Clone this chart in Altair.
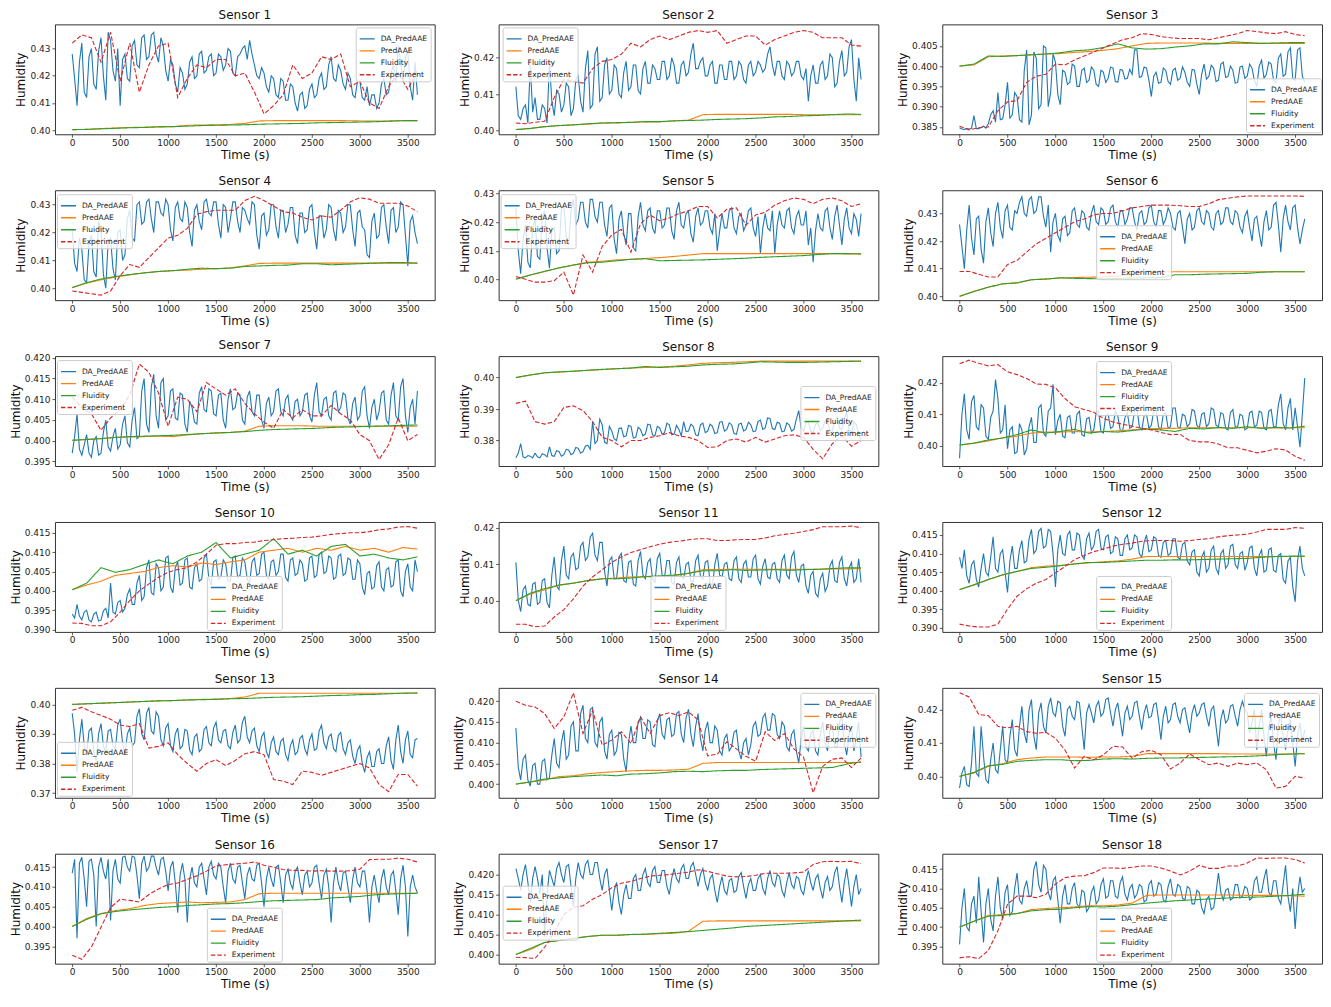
import altair as alt
import pandas as pd

SERIES = ["DA_PredAAE", "PredAAE", "Fluidity", "Experiment"]
COLORS = ["#1f77b4", "#ff7f0e", "#2ca02c", "#d62728"]
DASHES = [[1, 0], [1, 0], [1, 0], [4.5, 2]]
X_TICKS = [0, 500, 1000, 1500, 2000, 2500, 3000, 3500]
T_END = 3600  # length of the run in seconds; samples are evenly spaced over it

# ---------------- Sensor 1 ----------------
DA_1 = [0.428,0.419,0.409,0.425,0.432,0.414,0.412,0.427,0.430,0.417,
        0.415,0.429,0.434,0.420,0.411,0.436,0.433,0.422,0.418,0.430,
        0.409,0.426,0.428,0.419,0.418,0.431,0.433,0.424,0.423,0.434,
        0.435,0.426,0.427,0.435,0.436,0.428,0.425,0.434,0.431,0.422,
        0.418,0.426,0.424,0.417,0.414,0.423,0.421,0.415,0.417,0.425,
        0.427,0.419,0.420,0.428,0.429,0.421,0.422,0.427,0.428,0.420,
        0.421,0.428,0.427,0.422,0.424,0.430,0.429,0.421,0.420,0.427,
        0.428,0.430,0.431,0.426,0.433,0.428,0.424,0.420,0.419,0.423,
        0.421,0.416,0.414,0.420,0.419,0.413,0.412,0.419,0.418,0.411,
        0.411,0.417,0.416,0.410,0.407,0.413,0.414,0.408,0.409,0.415,
        0.417,0.412,0.413,0.419,0.421,0.415,0.416,0.424,0.427,0.419,
        0.418,0.424,0.422,0.417,0.415,0.421,0.419,0.413,0.412,0.418,
        0.418,0.412,0.411,0.416,0.409,0.413,0.413,0.408,0.410,0.417,
        0.419,0.413,0.414,0.421,0.424,0.418,0.431,0.425,0.418,0.427,
        0.429,0.416,0.411,0.425,0.413]
EXP_1 = [0.432,0.435,0.434,0.425,0.436,0.418,0.432,0.414,0.424,0.431,
         0.432,0.412,0.419,0.424,0.423,0.426,0.426,0.420,0.421,0.414,
         0.406,0.409,0.413,0.424,0.419,0.421,0.427,0.426,0.428,0.416,
         0.418,0.410,0.408,0.416,0.421,0.415,0.422]
PRED_1 = [0.4002,0.4003,0.4006,0.4008,0.4010,0.4011,0.4013,0.4013,0.4018,0.4019,
          0.4020,0.4021,0.4025,0.4034,0.4035,0.4035,0.4035,0.4035,0.4035,0.4035,
          0.4034,0.4034,0.4034,0.4035,0.4035]
FLU_1 = [0.4002,0.4003,0.4005,0.4007,0.4009,0.4010,0.4012,0.4013,0.4015,0.4017,
         0.4018,0.4019,0.4020,0.4022,0.4023,0.4024,0.4025,0.4027,0.4028,0.4029,
         0.4030,0.4031,0.4033,0.4035,0.4035]
YT_1 = [0.40, 0.41, 0.42, 0.43]

# ---------------- Sensor 2 ----------------
DA_2 = [0.412,0.404,0.403,0.406,0.407,0.402,0.418,0.405,0.409,0.403,
        0.403,0.407,0.406,0.402,0.419,0.408,0.404,0.411,0.410,0.405,
        0.407,0.413,0.412,0.404,0.406,0.414,0.415,0.408,0.405,0.417,
        0.422,0.406,0.407,0.421,0.423,0.408,0.409,0.418,0.420,0.410,
        0.411,0.418,0.417,0.410,0.409,0.416,0.419,0.411,0.412,0.418,
        0.418,0.411,0.410,0.417,0.419,0.413,0.413,0.418,0.417,0.414,
        0.414,0.419,0.419,0.414,0.415,0.420,0.418,0.413,0.413,0.418,
        0.419,0.415,0.416,0.421,0.424,0.417,0.417,0.419,0.420,0.415,
        0.415,0.418,0.419,0.413,0.413,0.418,0.418,0.414,0.414,0.419,
        0.419,0.414,0.415,0.419,0.418,0.414,0.413,0.418,0.419,0.415,
        0.416,0.419,0.418,0.416,0.417,0.421,0.423,0.418,0.415,0.419,
        0.419,0.415,0.414,0.419,0.418,0.415,0.416,0.419,0.419,0.415,
        0.414,0.417,0.408,0.415,0.418,0.413,0.413,0.418,0.419,0.414,
        0.415,0.421,0.420,0.412,0.413,0.419,0.422,0.415,0.416,0.423,
        0.425,0.414,0.408,0.420,0.414]
EXP_2 = [0.4020,0.4018,0.4022,0.4025,0.4090,0.4140,0.4135,0.4130,0.4170,0.4190,
         0.4195,0.4210,0.4240,0.4230,0.4250,0.4260,0.4250,0.4260,0.4270,0.4275,
         0.4270,0.4275,0.4240,0.4250,0.4260,0.4260,0.4235,0.4250,0.4260,0.4270,
         0.4275,0.4270,0.4255,0.4255,0.4255,0.4235,0.4232]
PRED_2 = [0.4002,0.4005,0.4010,0.4013,0.4015,0.4017,0.4020,0.4020,0.4022,0.4023,
          0.4023,0.4026,0.4028,0.4043,0.4044,0.4044,0.4044,0.4044,0.4044,0.4044,
          0.4043,0.4043,0.4043,0.4043,0.4043]
FLU_2 = [0.4002,0.4005,0.4010,0.4013,0.4015,0.4018,0.4020,0.4021,0.4022,0.4024,
         0.4024,0.4026,0.4027,0.4028,0.4030,0.4031,0.4032,0.4034,0.4037,0.4038,
         0.4040,0.4041,0.4043,0.4045,0.4044]
YT_2 = [0.40, 0.41, 0.42]

# ---------------- Sensor 3 ----------------
DA_3 = [0.3848,0.3845,0.3844,0.3846,0.3845,0.3847,0.3878,0.3846,0.3846,0.3849,
        0.3852,0.3847,0.3858,0.3880,0.3890,0.3862,0.3935,0.3868,0.3870,0.3905,
        0.3960,0.3872,0.3880,0.3935,0.3925,0.3868,0.3862,0.3990,0.4040,0.3855,
        0.3880,0.4035,0.4020,0.3895,0.3905,0.4050,0.4045,0.3900,0.3935,0.4030,
        0.4010,0.3930,0.3905,0.3990,0.3985,0.3955,0.3960,0.4005,0.4000,0.3950,
        0.3950,0.3990,0.3995,0.3960,0.3965,0.3998,0.3990,0.3955,0.3950,0.3990,
        0.3985,0.3960,0.3970,0.3998,0.3995,0.3962,0.3960,0.3992,0.3990,0.3968,
        0.3970,0.3992,0.3980,0.4040,0.4040,0.3972,0.3975,0.3998,0.3995,0.3965,
        0.3925,0.3975,0.3985,0.3958,0.3960,0.3995,0.3990,0.3962,0.3955,0.3990,
        0.3995,0.3965,0.3970,0.3998,0.3985,0.3960,0.3950,0.3992,0.3990,0.3955,
        0.3930,0.3980,0.4005,0.3968,0.3975,0.4002,0.3995,0.3962,0.3965,0.4005,
        0.4010,0.3972,0.3975,0.4000,0.3990,0.3958,0.3960,0.3998,0.4000,0.3970,
        0.3975,0.4005,0.3995,0.3965,0.3950,0.4000,0.4015,0.3970,0.3980,0.4010,
        0.4005,0.3965,0.3960,0.4020,0.4030,0.3975,0.3980,0.4035,0.4045,0.3970,
        0.3965,0.4040,0.4045,0.3975,0.3960]
EXP_3 = [0.3852,0.3843,0.3848,0.3850,0.3890,0.3912,0.3915,0.3960,0.3975,0.3980,
         0.4005,0.4003,0.4015,0.4025,0.4035,0.4045,0.4055,0.4065,0.4070,0.4080,
         0.4078,0.4073,0.4070,0.4068,0.4068,0.4068,0.4065,0.4070,0.4075,0.4080,
         0.4088,0.4085,0.4082,0.4080,0.4085,0.4078,0.4075]
PRED_3 = [0.4000,0.4003,0.4023,0.4025,0.4026,0.4028,0.4030,0.4031,0.4034,0.4036,
          0.4039,0.4043,0.4050,0.4056,0.4057,0.4057,0.4057,0.4057,0.4056,0.4056,
          0.4056,0.4056,0.4056,0.4056,0.4056]
FLU_3 = [0.4000,0.4005,0.4025,0.4024,0.4026,0.4028,0.4030,0.4033,0.4038,0.4040,
         0.4046,0.4055,0.4045,0.4042,0.4043,0.4047,0.4050,0.4055,0.4055,0.4060,
         0.4058,0.4056,0.4057,0.4058,0.4058]
YT_3 = [0.385, 0.390, 0.395, 0.400, 0.405]

# ---------------- Sensor 4 ----------------
DA_4 = [0.421,0.409,0.406,0.418,0.414,0.403,0.402,0.416,0.419,0.406,
        0.404,0.424,0.421,0.405,0.400,0.417,0.418,0.407,0.403,0.420,
        0.421,0.410,0.412,0.425,0.428,0.418,0.417,0.430,0.431,0.423,
        0.424,0.431,0.432,0.425,0.420,0.431,0.431,0.427,0.426,0.432,
        0.430,0.421,0.417,0.429,0.431,0.425,0.424,0.431,0.429,0.420,
        0.415,0.428,0.430,0.424,0.421,0.431,0.432,0.427,0.426,0.431,
        0.431,0.423,0.418,0.430,0.429,0.420,0.425,0.431,0.431,0.424,
        0.420,0.429,0.428,0.425,0.423,0.431,0.430,0.419,0.414,0.426,
        0.427,0.419,0.421,0.430,0.430,0.422,0.418,0.428,0.428,0.420,
        0.423,0.429,0.429,0.419,0.416,0.427,0.427,0.420,0.421,0.429,
        0.430,0.420,0.414,0.426,0.426,0.418,0.421,0.430,0.429,0.421,
        0.417,0.428,0.427,0.420,0.422,0.430,0.430,0.421,0.415,0.427,
        0.428,0.422,0.421,0.412,0.411,0.424,0.427,0.418,0.419,0.429,
        0.430,0.422,0.416,0.428,0.429,0.420,0.422,0.431,0.430,0.419,
        0.408,0.424,0.426,0.420,0.416]
EXP_4 = [0.3990,0.3985,0.3980,0.3975,0.3990,0.4045,0.4085,0.4075,0.4110,0.4145,
         0.4180,0.4190,0.4215,0.4265,0.4275,0.4280,0.4280,0.4280,0.4315,0.4330,
         0.4315,0.4295,0.4275,0.4270,0.4255,0.4245,0.4260,0.4255,0.4280,0.4310,
         0.4325,0.4320,0.4305,0.4305,0.4305,0.4295,0.4275]
PRED_4 = [0.4002,0.4018,0.4030,0.4040,0.4048,0.4055,0.4060,0.4063,0.4065,0.4068,
          0.4070,0.4073,0.4080,0.4089,0.4090,0.4090,0.4090,0.4090,0.4090,0.4090,
          0.4090,0.4090,0.4090,0.4090,0.4090]
FLU_4 = [0.4002,0.4020,0.4033,0.4042,0.4049,0.4055,0.4060,0.4063,0.4068,0.4072,
         0.4070,0.4072,0.4078,0.4080,0.4082,0.4083,0.4088,0.4088,0.4084,0.4086,
         0.4088,0.4090,0.4092,0.4092,0.4090]
YT_4 = [0.40, 0.41, 0.42, 0.43]

# ---------------- Sensor 5 ----------------
DA_5 = [0.425,0.410,0.402,0.414,0.419,0.406,0.404,0.418,0.421,0.408,
        0.407,0.422,0.424,0.411,0.404,0.417,0.418,0.409,0.410,0.425,
        0.426,0.415,0.412,0.424,0.428,0.419,0.421,0.427,0.427,0.420,
        0.418,0.428,0.428,0.422,0.420,0.427,0.427,0.419,0.415,0.425,
        0.426,0.414,0.409,0.421,0.424,0.416,0.412,0.423,0.423,0.411,
        0.410,0.422,0.427,0.419,0.417,0.424,0.425,0.418,0.416,0.424,
        0.424,0.418,0.419,0.425,0.425,0.417,0.414,0.424,0.427,0.419,
        0.418,0.423,0.424,0.416,0.413,0.422,0.425,0.419,0.420,0.424,
        0.424,0.418,0.416,0.423,0.410,0.417,0.423,0.418,0.418,0.424,
        0.425,0.418,0.416,0.422,0.423,0.417,0.419,0.424,0.425,0.418,
        0.415,0.422,0.409,0.418,0.423,0.418,0.417,0.424,0.409,0.419,
        0.424,0.419,0.418,0.424,0.425,0.418,0.416,0.422,0.424,0.419,
        0.419,0.424,0.412,0.418,0.406,0.417,0.423,0.418,0.417,0.424,
        0.425,0.418,0.414,0.422,0.426,0.419,0.412,0.421,0.425,0.418,
        0.416,0.423,0.421,0.415,0.423]
EXP_5 = [0.4010,0.4000,0.3990,0.3990,0.3995,0.4025,0.3945,0.4085,0.4025,0.4115,
         0.4155,0.4175,0.4095,0.4195,0.4225,0.4205,0.4215,0.4230,0.4240,0.4255,
         0.4255,0.4215,0.4245,0.4250,0.4190,0.4225,0.4235,0.4260,0.4275,0.4285,
         0.4280,0.4265,0.4280,0.4285,0.4275,0.4255,0.4265]
PRED_5 = [0.4002,0.4015,0.4027,0.4040,0.4050,0.4060,0.4063,0.4068,0.4070,0.4073,
          0.4076,0.4080,0.4085,0.4090,0.4090,0.4090,0.4090,0.4090,0.4090,0.4090,
          0.4090,0.4090,0.4090,0.4089,0.4089]
FLU_5 = [0.4000,0.4015,0.4028,0.4040,0.4050,0.4058,0.4060,0.4065,0.4070,0.4072,
         0.4065,0.4066,0.4067,0.4068,0.4070,0.4072,0.4074,0.4077,0.4079,0.4081,
         0.4083,0.4087,0.4090,0.4090,0.4089]
YT_5 = [0.40, 0.41, 0.42, 0.43]

# ---------------- Sensor 6 ----------------
DA_6 = [0.426,0.418,0.410,0.424,0.433,0.421,0.415,0.428,0.429,0.417,
        0.412,0.427,0.432,0.423,0.418,0.430,0.434,0.425,0.421,0.431,
        0.433,0.425,0.424,0.431,0.430,0.434,0.436,0.430,0.429,0.435,
        0.436,0.430,0.431,0.436,0.436,0.429,0.425,0.433,0.416,0.427,
        0.430,0.422,0.420,0.428,0.429,0.422,0.423,0.431,0.432,0.426,
        0.425,0.431,0.430,0.425,0.424,0.430,0.433,0.427,0.426,0.432,
        0.431,0.426,0.427,0.432,0.433,0.427,0.425,0.431,0.431,0.426,
        0.428,0.432,0.432,0.427,0.424,0.430,0.431,0.426,0.427,0.432,
        0.433,0.427,0.425,0.431,0.431,0.426,0.428,0.432,0.430,0.425,
        0.424,0.430,0.431,0.425,0.419,0.428,0.430,0.424,0.425,0.431,
        0.432,0.427,0.426,0.431,0.430,0.425,0.424,0.430,0.431,0.426,
        0.427,0.432,0.432,0.427,0.426,0.431,0.430,0.425,0.423,0.429,
        0.431,0.425,0.420,0.428,0.429,0.423,0.418,0.427,0.431,0.424,
        0.425,0.433,0.434,0.426,0.416,0.428,0.433,0.427,0.424,0.432,
        0.433,0.425,0.419,0.424,0.428]
EXP_6 = [0.4090,0.4090,0.4080,0.4070,0.4070,0.4115,0.4130,0.4160,0.4190,0.4210,
         0.4230,0.4250,0.4270,0.4280,0.4295,0.4300,0.4300,0.4310,0.4320,0.4325,
         0.4330,0.4330,0.4330,0.4328,0.4325,0.4325,0.4335,0.4350,0.4355,0.4360,
         0.4363,0.4363,0.4363,0.4363,0.4363,0.4363,0.4362]
PRED_6 = [0.4000,0.4018,0.4033,0.4045,0.4048,0.4060,0.4063,0.4066,0.4068,0.4069,
          0.4070,0.4073,0.4080,0.4089,0.4089,0.4089,0.4089,0.4089,0.4089,0.4089,
          0.4089,0.4089,0.4089,0.4089,0.4089]
FLU_6 = [0.4000,0.4017,0.4033,0.4045,0.4049,0.4060,0.4062,0.4067,0.4065,0.4064,
         0.4063,0.4065,0.4066,0.4067,0.4068,0.4078,0.4078,0.4080,0.4081,0.4082,
         0.4083,0.4087,0.4089,0.4089,0.4089]
YT_6 = [0.40, 0.41, 0.42, 0.43]

# ---------------- Sensor 7 ----------------
DA_7 = [0.3970,0.4010,0.4065,0.3980,0.3965,0.3990,0.4015,0.3970,0.3960,0.4000,
        0.4010,0.3965,0.3970,0.4020,0.4050,0.3985,0.3975,0.4010,0.4030,0.3980,
        0.3990,0.4040,0.4060,0.3995,0.3985,0.4050,0.4080,0.4005,0.4010,0.4120,
        0.4150,0.4040,0.4020,0.4130,0.4160,0.4060,0.4030,0.4140,0.4150,0.4050,
        0.4060,0.4120,0.4125,0.4055,0.4050,0.4115,0.4110,0.4040,0.4020,0.4095,
        0.4080,0.4045,0.4040,0.4115,0.4130,0.4075,0.4070,0.4125,0.4120,0.4065,
        0.4060,0.4110,0.4115,0.4050,0.4030,0.4100,0.4125,0.4075,0.4080,0.4115,
        0.4110,0.4050,0.4040,0.4105,0.4120,0.4070,0.4060,0.4110,0.4110,0.4050,
        0.4030,0.4090,0.4105,0.4060,0.4070,0.4120,0.4125,0.4070,0.4060,0.4100,
        0.4110,0.4060,0.4050,0.4095,0.4100,0.4060,0.4070,0.4110,0.4115,0.4060,
        0.4045,0.4110,0.4140,0.4070,0.4060,0.4100,0.4105,0.4060,0.4050,0.4115,
        0.4120,0.4070,0.4080,0.4115,0.4110,0.4055,0.4040,0.4090,0.4105,0.4050,
        0.4060,0.4120,0.4130,0.4060,0.4030,0.4080,0.4100,0.4050,0.4070,0.4115,
        0.4120,0.4050,0.4040,0.4110,0.4140,0.4060,0.4050,0.4130,0.4150,0.4060,
        0.4020,0.4080,0.4100,0.4040,0.4120]
EXP_7 = [0.4105,0.4080,0.4065,0.4025,0.4055,0.4075,0.4110,0.4185,0.4165,0.4115,
         0.4035,0.4105,0.4100,0.4070,0.4140,0.4125,0.4110,0.4125,0.4090,0.4065,
         0.4045,0.4030,0.4075,0.4055,0.4075,0.4060,0.4060,0.4085,0.4065,0.4050,
         0.4015,0.4000,0.3955,0.3990,0.4055,0.4000,0.4015]
PRED_7 = [0.4001,0.4003,0.4005,0.4008,0.4009,0.4010,0.4011,0.4010,0.4014,0.4017,
          0.4018,0.4020,0.4023,0.4035,0.4036,0.4036,0.4036,0.4035,0.4035,0.4035,
          0.4035,0.4035,0.4035,0.4035,0.4035]
FLU_7 = [0.4001,0.4003,0.4005,0.4008,0.4010,0.4011,0.4012,0.4013,0.4015,0.4017,
         0.4019,0.4020,0.4022,0.4025,0.4027,0.4028,0.4029,0.4030,0.4032,0.4033,
         0.4034,0.4035,0.4036,0.4037,0.4038]
YT_7 = [0.395, 0.400, 0.405, 0.410, 0.415, 0.420]

# ---------------- Sensor 8 ----------------
DA_8 = [0.3745,0.3760,0.3790,0.3748,0.3745,0.3752,0.3750,0.3745,0.3760,0.3748,
        0.3745,0.3758,0.3755,0.3748,0.3780,0.3752,0.3750,0.3768,0.3765,0.3750,
        0.3755,0.3772,0.3770,0.3755,0.3760,0.3778,0.3775,0.3760,0.3765,0.3782,
        0.3785,0.3772,0.3860,0.3790,0.3800,0.3868,0.3850,0.3795,0.3790,0.3845,
        0.3830,0.3805,0.3800,0.3838,0.3840,0.3812,0.3815,0.3848,0.3845,0.3808,
        0.3810,0.3842,0.3835,0.3815,0.3820,0.3852,0.3850,0.3818,0.3815,0.3845,
        0.3840,0.3820,0.3825,0.3855,0.3850,0.3818,0.3820,0.3848,0.3835,0.3815,
        0.3860,0.3828,0.3830,0.3852,0.3845,0.3818,0.3815,0.3850,0.3855,0.3825,
        0.3830,0.3852,0.3845,0.3822,0.3825,0.3858,0.3860,0.3830,0.3835,0.3856,
        0.3850,0.3822,0.3820,0.3852,0.3855,0.3830,0.3835,0.3858,0.3850,0.3828,
        0.3830,0.3860,0.3865,0.3835,0.3840,0.3872,0.3870,0.3838,0.3835,0.3858,
        0.3855,0.3828,0.3830,0.3856,0.3850,0.3830,0.3835,0.3868,0.3895,0.3838,
        0.3830,0.3855,0.3860,0.3830,0.3825,0.3852,0.3855,0.3832,0.3840,0.3862,
        0.3860,0.3832,0.3830,0.3862,0.3875,0.3840,0.3835,0.3870,0.3890,0.3835,
        0.3820,0.3860,0.3850,0.3822,0.3800]
EXP_8 = [0.3918,0.3925,0.3860,0.3852,0.3860,0.3905,0.3910,0.3895,0.3860,0.3810,
         0.3800,0.3780,0.3800,0.3800,0.3810,0.3815,0.3825,0.3815,0.3810,0.3800,
         0.3778,0.3780,0.3800,0.3805,0.3795,0.3810,0.3795,0.3805,0.3815,0.3818,
         0.3810,0.3772,0.3742,0.3790,0.3815,0.3782,0.3800]
PRED_8 = [0.4000,0.4008,0.4015,0.4017,0.4020,0.4023,0.4025,0.4028,0.4030,0.4032,
          0.4033,0.4036,0.4040,0.4045,0.4047,0.4048,0.4050,0.4052,0.4052,0.4052,
          0.4052,0.4052,0.4052,0.4052,0.4052]
FLU_8 = [0.4000,0.4008,0.4015,0.4018,0.4020,0.4023,0.4026,0.4028,0.4030,0.4035,
         0.4032,0.4034,0.4036,0.4040,0.4042,0.4043,0.4046,0.4050,0.4049,0.4048,
         0.4048,0.4049,0.4050,0.4051,0.4052]
YT_8 = [0.38, 0.39, 0.40]

# ---------------- Sensor 9 ----------------
DA_9 = [0.3960,0.4100,0.4165,0.4050,0.4020,0.4140,0.4160,0.4060,0.4050,0.4130,
        0.4120,0.4030,0.4020,0.4090,0.4110,0.4210,0.4150,0.4040,0.4050,0.4130,
        0.3990,0.4050,0.4060,0.3975,0.3980,0.4070,0.4050,0.3970,0.3990,0.4060,
        0.4090,0.4010,0.4010,0.4120,0.4130,0.4040,0.4030,0.4110,0.4120,0.4195,
        0.4035,0.4080,0.4100,0.4030,0.4025,0.4090,0.4095,0.4040,0.4040,0.4100,
        0.4110,0.4035,0.4030,0.4085,0.4090,0.4040,0.4050,0.4105,0.4110,0.4045,
        0.4040,0.4095,0.4100,0.4055,0.4060,0.4110,0.4095,0.4050,0.4045,0.4090,
        0.4105,0.4055,0.4060,0.4110,0.4120,0.4060,0.4050,0.4095,0.4100,0.4055,
        0.4065,0.4110,0.4115,0.4060,0.4050,0.4100,0.4105,0.4055,0.4060,0.4120,
        0.4120,0.4060,0.4055,0.4100,0.4095,0.4060,0.4070,0.4115,0.4110,0.4065,
        0.4055,0.4100,0.4105,0.4060,0.4070,0.4120,0.4115,0.4065,0.4060,0.4105,
        0.4100,0.4055,0.4050,0.4105,0.4115,0.4060,0.4060,0.4100,0.4095,0.4050,
        0.4055,0.4105,0.4110,0.4060,0.4065,0.4110,0.4105,0.4055,0.4050,0.4110,
        0.4115,0.4060,0.4060,0.4130,0.4165,0.4070,0.4050,0.4120,0.4150,0.4050,
        0.4120,0.4060,0.3995,0.4100,0.4215]
EXP_9 = [0.4261,0.4272,0.4262,0.4254,0.4258,0.4235,0.4226,0.4214,0.4196,0.4195,
         0.4184,0.4150,0.4124,0.4115,0.4106,0.4087,0.4075,0.4068,0.4062,0.4055,
         0.4050,0.4042,0.4035,0.4036,0.4016,0.4012,0.4012,0.4005,0.3993,0.3993,
         0.3985,0.3977,0.3982,0.3990,0.3986,0.3966,0.3953]
PRED_9 = [0.4002,0.4007,0.4015,0.4025,0.4030,0.4040,0.4043,0.4043,0.4045,0.4043,
          0.4045,0.4047,0.4050,0.4053,0.4055,0.4055,0.4057,0.4057,0.4056,0.4057,
          0.4057,0.4057,0.4056,0.4057,0.4057]
FLU_9 = [0.4002,0.4008,0.4018,0.4024,0.4035,0.4050,0.4040,0.4045,0.4052,0.4040,
         0.4045,0.4043,0.4048,0.4053,0.4050,0.4045,0.4055,0.4053,0.4058,0.4055,
         0.4060,0.4055,0.4058,0.4056,0.4062]
YT_9 = [0.40, 0.41, 0.42]

# ---------------- Sensor 10 ----------------
DA_10 = [0.3940,0.3930,0.3965,0.3935,0.3925,0.3945,0.3950,0.3925,0.3920,0.3940,
         0.3945,0.3922,0.3925,0.3948,0.3955,0.3930,0.4020,0.3945,0.3940,0.3970,
         0.3975,0.3945,0.3955,0.3990,0.4005,0.3965,0.3965,0.4020,0.4040,0.3975,
         0.3985,0.4060,0.4080,0.3995,0.3990,0.4070,0.4060,0.4000,0.4010,0.4085,
         0.4090,0.4010,0.3995,0.4060,0.4075,0.4015,0.4020,0.4080,0.4085,0.4010,
         0.4005,0.4060,0.4070,0.4025,0.4030,0.4085,0.4095,0.4030,0.4015,0.4075,
         0.4080,0.4030,0.4035,0.4080,0.4070,0.4025,0.4025,0.4085,0.4090,0.4035,
         0.4040,0.4085,0.4075,0.4030,0.4020,0.4075,0.4085,0.4040,0.4045,0.4095,
         0.4100,0.4040,0.4030,0.4075,0.4080,0.4040,0.4050,0.4095,0.4095,0.4035,
         0.4025,0.4080,0.4085,0.4040,0.4045,0.4080,0.4070,0.4025,0.4030,0.4085,
         0.4090,0.4035,0.4040,0.4095,0.4100,0.4045,0.4050,0.4090,0.4085,0.4030,
         0.4035,0.4090,0.4095,0.4040,0.4045,0.4085,0.4080,0.4030,0.4030,0.4080,
         0.4070,0.4010,0.3990,0.4045,0.4050,0.4005,0.4010,0.4065,0.4075,0.4010,
         0.4000,0.4055,0.4060,0.4010,0.4015,0.4075,0.4080,0.4000,0.3985,0.4050,
         0.4070,0.4010,0.4000,0.4080,0.4050]
EXP_10 = [0.3917,0.3916,0.3910,0.3910,0.3920,0.3945,0.3975,0.4000,0.4018,0.4035,
          0.4048,0.4055,0.4060,0.4075,0.4095,0.4118,0.4122,0.4122,0.4125,0.4126,
          0.4130,0.4132,0.4135,0.4136,0.4138,0.4139,0.4142,0.4146,0.4148,0.4150,
          0.4150,0.4153,0.4158,0.4160,0.4165,0.4166,0.4162]
PRED_10 = [0.4003,0.4015,0.4025,0.4040,0.4045,0.4050,0.4060,0.4065,0.4062,0.4072,
           0.4068,0.4075,0.4080,0.4100,0.4105,0.4110,0.4100,0.4110,0.4105,0.4115,
           0.4105,0.4110,0.4100,0.4112,0.4108]
FLU_10 = [0.4003,0.4020,0.4060,0.4048,0.4055,0.4068,0.4080,0.4070,0.4090,0.4100,
          0.4125,0.4085,0.4095,0.4105,0.4135,0.4095,0.4105,0.4090,0.4115,0.4120,
          0.4090,0.4095,0.4085,0.4080,0.4088]
YT_10 = [0.390, 0.395, 0.400, 0.405, 0.410, 0.415]

# ---------------- Sensor 11 ----------------
DA_11 = [0.4105,0.4000,0.3970,0.4030,0.4040,0.3990,0.3985,0.4045,0.4050,0.3990,
         0.3995,0.4055,0.4060,0.3995,0.3980,0.4070,0.4120,0.4040,0.4030,0.4110,
         0.4150,0.4070,0.4060,0.4120,0.4130,0.4085,0.4090,0.4150,0.4160,0.4110,
         0.4120,0.4175,0.4185,0.4125,0.4110,0.4160,0.4160,0.4080,0.4040,0.4110,
         0.4120,0.4060,0.4060,0.4120,0.4130,0.4055,0.4050,0.4105,0.4110,0.4045,
         0.4040,0.4110,0.4135,0.4070,0.4060,0.4105,0.4115,0.4060,0.4050,0.4115,
         0.4130,0.4070,0.4065,0.4110,0.4110,0.4050,0.4045,0.4105,0.4120,0.4065,
         0.4060,0.4100,0.4105,0.4055,0.4050,0.4110,0.4125,0.4065,0.4060,0.4105,
         0.4110,0.4050,0.4040,0.4100,0.4130,0.4070,0.4065,0.4100,0.4105,0.4060,
         0.4055,0.4110,0.4120,0.4060,0.4050,0.4100,0.4110,0.4065,0.4065,0.4115,
         0.4125,0.4060,0.4045,0.4095,0.4115,0.4065,0.4060,0.4100,0.4105,0.4060,
         0.4050,0.4110,0.4125,0.4070,0.4060,0.4120,0.4135,0.4070,0.4050,0.4095,
         0.4100,0.4040,0.4020,0.4070,0.4080,0.4020,0.4010,0.4060,0.4075,0.4025,
         0.4040,0.4095,0.4110,0.4055,0.4050,0.4105,0.4120,0.4060,0.4040,0.4090,
         0.4105,0.4050,0.4060,0.4115,0.4050]
EXP_11 = [0.3935,0.3935,0.3928,0.3930,0.3955,0.3975,0.4005,0.4040,0.4065,0.4085,
          0.4105,0.4120,0.4132,0.4140,0.4148,0.4155,0.4160,0.4163,0.4167,0.4170,
          0.4170,0.4165,0.4165,0.4167,0.4168,0.4168,0.4172,0.4178,0.4182,0.4185,
          0.4190,0.4195,0.4203,0.4203,0.4203,0.4205,0.4200]
PRED_11 = [0.4000,0.4018,0.4030,0.4042,0.4048,0.4055,0.4060,0.4062,0.4065,0.4066,
           0.4066,0.4068,0.4075,0.4085,0.4085,0.4086,0.4086,0.4086,0.4086,0.4086,
           0.4086,0.4086,0.4087,0.4087,0.4088]
FLU_11 = [0.4000,0.4020,0.4033,0.4043,0.4048,0.4055,0.4060,0.4060,0.4062,0.4066,
          0.4068,0.4070,0.4075,0.4082,0.4082,0.4085,0.4083,0.4084,0.4085,0.4083,
          0.4085,0.4086,0.4088,0.4090,0.4090]
YT_11 = [0.40, 0.41, 0.42]

# ---------------- Sensor 12 ----------------
DA_12 = [0.4090,0.4060,0.4110,0.4040,0.4020,0.4070,0.4080,0.4030,0.4010,0.4060,
         0.4100,0.4050,0.4040,0.4090,0.4145,0.4060,0.4050,0.4100,0.4110,0.4050,
         0.3995,0.4080,0.4120,0.4060,0.4060,0.4110,0.4135,0.4075,0.4080,0.4140,
         0.4165,0.4100,0.4110,0.4160,0.4168,0.4115,0.4120,0.4165,0.4160,0.4100,
         0.4010,0.4110,0.4150,0.4100,0.4095,0.4150,0.4160,0.4110,0.4110,0.4155,
         0.4150,0.4095,0.4085,0.4140,0.4155,0.4110,0.4120,0.4160,0.4165,0.4115,
         0.4110,0.4145,0.4150,0.4100,0.4105,0.4145,0.4140,0.4095,0.4095,0.4140,
         0.4150,0.4110,0.4115,0.4150,0.4145,0.4100,0.4090,0.4130,0.4150,0.4105,
         0.4110,0.4145,0.4140,0.4095,0.4090,0.4130,0.4135,0.4095,0.4100,0.4140,
         0.4140,0.4090,0.4085,0.4125,0.4130,0.4080,0.4070,0.4105,0.4110,0.4050,
         0.4040,0.4090,0.4105,0.4050,0.4060,0.4110,0.4120,0.4060,0.4045,0.4100,
         0.4110,0.4060,0.4070,0.4120,0.4125,0.4070,0.4060,0.4100,0.4105,0.4055,
         0.4075,0.4115,0.4120,0.4060,0.4040,0.4095,0.4110,0.4050,0.4055,0.4110,
         0.4115,0.4055,0.4050,0.4095,0.4100,0.4030,0.4020,0.4080,0.4090,0.4010,
         0.3970,0.4080,0.4120,0.4060,0.4040]
EXP_12 = [0.3910,0.3905,0.3902,0.3902,0.3910,0.3950,0.3985,0.4005,0.4020,0.4030,
          0.4048,0.4065,0.4084,0.4095,0.4105,0.4112,0.4120,0.4125,0.4128,0.4133,
          0.4135,0.4135,0.4135,0.4133,0.4135,0.4138,0.4140,0.4145,0.4148,0.4150,
          0.4152,0.4158,0.4165,0.4165,0.4165,0.4170,0.4168]
PRED_12 = [0.4003,0.4015,0.4030,0.4042,0.4052,0.4062,0.4066,0.4068,0.4072,0.4075,
           0.4078,0.4080,0.4085,0.4092,0.4092,0.4092,0.4092,0.4092,0.4092,0.4092,
           0.4092,0.4092,0.4092,0.4092,0.4092]
FLU_12 = [0.4003,0.4016,0.4030,0.4043,0.4052,0.4060,0.4063,0.4067,0.4072,0.4076,
          0.4076,0.4078,0.4080,0.4082,0.4082,0.4083,0.4083,0.4084,0.4085,0.4086,
          0.4087,0.4090,0.4092,0.4093,0.4093]
YT_12 = [0.390, 0.395, 0.400, 0.405, 0.410, 0.415]

# ---------------- Sensor 13 ----------------
DA_13 = [0.3970,0.3900,0.3770,0.3880,0.3950,0.3860,0.3830,0.3910,0.3920,0.3840,
         0.3810,0.3900,0.3935,0.3860,0.3840,0.3910,0.3915,0.3860,0.3850,0.3930,
         0.3950,0.3870,0.3830,0.3900,0.3920,0.3860,0.3870,0.3960,0.3985,0.3900,
         0.3880,0.3970,0.3990,0.3910,0.3900,0.3975,0.3960,0.3880,0.3860,0.3920,
         0.3935,0.3860,0.3840,0.3900,0.3920,0.3850,0.3860,0.3915,0.3910,0.3845,
         0.3830,0.3890,0.3900,0.3840,0.3850,0.3915,0.3925,0.3870,0.3860,0.3920,
         0.3940,0.3880,0.3870,0.3910,0.3915,0.3860,0.3850,0.3905,0.3930,0.3870,
         0.3880,0.3940,0.3960,0.3890,0.3870,0.3910,0.3920,0.3860,0.3840,0.3890,
         0.3905,0.3840,0.3820,0.3870,0.3890,0.3840,0.3830,0.3875,0.3885,0.3830,
         0.3810,0.3860,0.3880,0.3830,0.3840,0.3885,0.3895,0.3850,0.3830,0.3880,
         0.3900,0.3845,0.3850,0.3910,0.3930,0.3870,0.3850,0.3890,0.3900,0.3850,
         0.3840,0.3895,0.3905,0.3850,0.3830,0.3870,0.3880,0.3825,0.3800,0.3845,
         0.3860,0.3800,0.3770,0.3820,0.3840,0.3790,0.3790,0.3840,0.3850,0.3800,
         0.3800,0.3860,0.3890,0.3810,0.3780,0.3880,0.3930,0.3840,0.3800,0.3880,
         0.3910,0.3830,0.3820,0.3880,0.3885]
EXP_13 = [0.3980,0.3990,0.3975,0.3963,0.3950,0.3930,0.3925,0.3935,0.3852,0.3858,
          0.3870,0.3830,0.3800,0.3774,0.3800,0.3813,0.3793,0.3810,0.3833,0.3840,
          0.3830,0.3746,0.3740,0.3729,0.3774,0.3770,0.3760,0.3770,0.3780,0.3790,
          0.3800,0.3785,0.3729,0.3705,0.3763,0.3763,0.3723]
PRED_13 = [0.4000,0.4002,0.4004,0.4006,0.4008,0.4010,0.4012,0.4013,0.4015,0.4017,
           0.4018,0.4020,0.4025,0.4038,0.4038,0.4038,0.4038,0.4038,0.4038,0.4038,
           0.4038,0.4038,0.4038,0.4038,0.4038]
FLU_13 = [0.4000,0.4002,0.4004,0.4006,0.4008,0.4010,0.4012,0.4013,0.4015,0.4016,
          0.4017,0.4019,0.4020,0.4022,0.4024,0.4025,0.4026,0.4028,0.4030,0.4031,
          0.4033,0.4034,0.4036,0.4038,0.4039]
YT_13 = [0.37, 0.38, 0.39, 0.40]

# ---------------- Sensor 14 ----------------
DA_14 = [0.4135,0.4040,0.4010,0.4060,0.4070,0.4010,0.3995,0.4045,0.4050,0.4000,
         0.4000,0.4055,0.4060,0.4010,0.4015,0.4070,0.4110,0.4050,0.4040,0.4100,
         0.4130,0.4060,0.4070,0.4140,0.4150,0.4080,0.4080,0.4170,0.4190,0.4110,
         0.4100,0.4180,0.4185,0.4100,0.4090,0.4150,0.4160,0.4080,0.4060,0.4120,
         0.4130,0.4070,0.4080,0.4125,0.4120,0.4060,0.4030,0.4100,0.4140,0.4100,
         0.4100,0.4150,0.4160,0.4110,0.4110,0.4155,0.4150,0.4095,0.4090,0.4150,
         0.4170,0.4120,0.4110,0.4155,0.4160,0.4115,0.4120,0.4170,0.4175,0.4120,
         0.4100,0.4160,0.4180,0.4120,0.4090,0.4140,0.4170,0.4110,0.4080,0.4130,
         0.4150,0.4100,0.4100,0.4140,0.4130,0.4080,0.4070,0.4110,0.4120,0.4080,
         0.4090,0.4125,0.4130,0.4080,0.4060,0.4100,0.4110,0.4070,0.4095,0.4140,
         0.4150,0.4115,0.4120,0.4160,0.4170,0.4130,0.4130,0.4170,0.4165,0.4120,
         0.4110,0.4150,0.4140,0.4090,0.4080,0.4120,0.4130,0.4080,0.4050,0.4110,
         0.4140,0.4090,0.4080,0.4120,0.4130,0.4080,0.4070,0.4120,0.4150,0.4100,
         0.4080,0.4130,0.4140,0.4090,0.4090,0.4150,0.4160,0.4100,0.4070,0.4120,
         0.4140,0.4080,0.4110,0.4150,0.4065]
EXP_14 = [0.4200,0.4190,0.4186,0.4170,0.4134,0.4162,0.4220,0.4122,0.4178,0.4094,
          0.4106,0.4126,0.4098,0.4162,0.4122,0.4165,0.4172,0.4165,0.4174,0.4155,
          0.4068,0.4072,0.4102,0.4085,0.4067,0.4055,0.4126,0.4105,0.4122,0.4085,
          0.4065,0.3979,0.4043,0.4060,0.4063,0.4040,0.4063]
PRED_14 = [0.4000,0.4005,0.4010,0.4018,0.4020,0.4025,0.4028,0.4030,0.4032,0.4033,
           0.4033,0.4034,0.4036,0.4050,0.4052,0.4052,0.4052,0.4052,0.4052,0.4052,
           0.4052,0.4052,0.4052,0.4052,0.4052]
FLU_14 = [0.4000,0.4005,0.4012,0.4015,0.4018,0.4020,0.4022,0.4020,0.4024,0.4025,
          0.4027,0.4030,0.4031,0.4030,0.4032,0.4033,0.4033,0.4035,0.4036,0.4037,
          0.4038,0.4039,0.4040,0.4048,0.4054]
YT_14 = [0.400, 0.405, 0.410, 0.415, 0.420]

# ---------------- Sensor 15 ----------------
DA_15 = [0.3965,0.4010,0.4030,0.3975,0.3970,0.4040,0.4150,0.4010,0.4000,0.4150,
         0.4060,0.3990,0.3980,0.4050,0.4100,0.4020,0.4010,0.4080,0.4150,0.4050,
         0.4040,0.4120,0.4170,0.4080,0.4060,0.4150,0.4210,0.4130,0.4100,0.4200,
         0.4230,0.4120,0.4080,0.4190,0.4220,0.4150,0.4130,0.4210,0.4235,0.4190,
         0.4180,0.4225,0.4220,0.4150,0.4120,0.4200,0.4210,0.4180,0.4170,0.4225,
         0.4220,0.4150,0.4080,0.4190,0.4215,0.4190,0.4160,0.4210,0.4225,0.4180,
         0.4190,0.4230,0.4235,0.4190,0.4150,0.4200,0.4220,0.4170,0.4120,0.4190,
         0.4210,0.4170,0.4180,0.4220,0.4225,0.4180,0.4140,0.4190,0.4215,0.4175,
         0.4180,0.4215,0.4220,0.4170,0.4110,0.4180,0.4210,0.4160,0.4170,0.4215,
         0.4220,0.4180,0.4160,0.4200,0.4205,0.4165,0.4130,0.4190,0.4215,0.4180,
         0.4190,0.4215,0.4220,0.4180,0.4150,0.4200,0.4210,0.4150,0.4090,0.4170,
         0.4200,0.4160,0.4170,0.4210,0.4215,0.4180,0.4150,0.4200,0.4225,0.4200,
         0.4190,0.4130,0.4160,0.4200,0.4080,0.4150,0.4200,0.4120,0.4060,0.4150,
         0.4180,0.4100,0.4050,0.4150,0.4190,0.4120,0.4080,0.4140,0.4170,0.4100,
         0.4030,0.4120,0.4160,0.4100,0.4140]
EXP_15 = [0.4250,0.4238,0.4185,0.4182,0.4150,0.4145,0.4150,0.4134,0.4129,0.4132,
          0.4114,0.4079,0.4025,0.4060,0.4050,0.4064,0.4090,0.4088,0.4054,0.4074,
          0.4078,0.4065,0.4022,0.4040,0.4067,0.4050,0.4035,0.4040,0.4030,0.4040,
          0.4035,0.4040,0.4020,0.3965,0.3970,0.4000,0.3995]
PRED_15 = [0.4000,0.4010,0.4030,0.4038,0.4050,0.4055,0.4058,0.4058,0.4058,0.4057,
           0.4058,0.4058,0.4060,0.4068,0.4068,0.4068,0.4068,0.4068,0.4068,0.4067,
           0.4067,0.4067,0.4067,0.4067,0.4068]
FLU_15 = [0.4000,0.4012,0.4032,0.4036,0.4045,0.4048,0.4050,0.4050,0.4047,0.4048,
          0.4052,0.4053,0.4052,0.4054,0.4055,0.4055,0.4056,0.4057,0.4058,0.4059,
          0.4060,0.4062,0.4065,0.4067,0.4068]
YT_15 = [0.40, 0.41, 0.42]

# ---------------- Sensor 16 ----------------
DA_16 = [0.4135,0.4170,0.3970,0.4160,0.4175,0.4120,0.4050,0.4165,0.4170,0.4130,
         0.4000,0.4150,0.4175,0.4140,0.4120,0.4170,0.4015,0.4140,0.4170,0.4120,
         0.4110,0.4175,0.4178,0.4150,0.4140,0.4178,0.4175,0.4130,0.4070,0.4160,
         0.4178,0.4140,0.4150,0.4178,0.4178,0.4150,0.4130,0.4170,0.4175,0.4140,
         0.4090,0.4150,0.4165,0.4110,0.4035,0.4130,0.4160,0.4120,0.4010,0.4120,
         0.4150,0.4110,0.4100,0.4150,0.4160,0.4120,0.4080,0.4150,0.4165,0.4130,
         0.4120,0.4160,0.4150,0.4100,0.4060,0.4140,0.4160,0.4120,0.4110,0.4150,
         0.4155,0.4110,0.4070,0.4130,0.4150,0.4120,0.4115,0.4155,0.4160,0.4110,
         0.4050,0.4120,0.4150,0.4120,0.4100,0.4150,0.4155,0.4110,0.4060,0.4130,
         0.4145,0.4110,0.4095,0.4140,0.4150,0.4110,0.4080,0.4130,0.4140,0.4100,
         0.4110,0.4150,0.4155,0.4110,0.4070,0.4130,0.4145,0.4100,0.4010,0.4110,
         0.4150,0.4110,0.4090,0.4135,0.4140,0.4100,0.4060,0.4120,0.4150,0.4110,
         0.4100,0.4140,0.4140,0.4090,0.4010,0.4100,0.4130,0.4090,0.4060,0.4120,
         0.4145,0.4100,0.4080,0.4130,0.4140,0.4090,0.4030,0.4120,0.4155,0.4100,
         0.3975,0.4100,0.4130,0.4100,0.4085]
EXP_16 = [0.3927,0.3917,0.3948,0.3998,0.4048,0.4069,0.4066,0.4062,0.4081,0.4095,
          0.4106,0.4110,0.4119,0.4128,0.4140,0.4153,0.4156,0.4158,0.4160,0.4163,
          0.4155,0.4150,0.4144,0.4142,0.4142,0.4140,0.4141,0.4140,0.4140,0.4141,
          0.4145,0.4169,0.4170,0.4170,0.4173,0.4170,0.4163]
PRED_16 = [0.4000,0.4020,0.4033,0.4040,0.4045,0.4053,0.4058,0.4060,0.4062,0.4060,
           0.4061,0.4062,0.4068,0.4083,0.4084,0.4084,0.4084,0.4084,0.4084,0.4084,
           0.4084,0.4084,0.4084,0.4084,0.4084]
FLU_16 = [0.4000,0.4018,0.4032,0.4038,0.4042,0.4045,0.4048,0.4050,0.4053,0.4055,
          0.4057,0.4058,0.4060,0.4063,0.4065,0.4066,0.4067,0.4068,0.4072,0.4074,
          0.4076,0.4080,0.4082,0.4083,0.4084]
YT_16 = [0.395, 0.400, 0.405, 0.410, 0.415]

# ---------------- Sensor 17 ----------------
DA_17 = [0.4215,0.4190,0.4160,0.4200,0.4225,0.4180,0.4130,0.4190,0.4220,0.4190,
         0.4150,0.4200,0.4045,0.4150,0.4210,0.4190,0.4170,0.4215,0.4230,0.4200,
         0.4180,0.4220,0.4225,0.4170,0.4120,0.4190,0.4230,0.4200,0.4190,0.4225,
         0.4235,0.4200,0.4200,0.4230,0.4230,0.4190,0.4160,0.4200,0.4215,0.4160,
         0.4110,0.4160,0.4180,0.4130,0.4100,0.4150,0.4175,0.4140,0.4140,0.4190,
         0.4200,0.4160,0.4160,0.4200,0.4215,0.4180,0.4170,0.4210,0.4220,0.4180,
         0.4180,0.4210,0.4210,0.4170,0.4150,0.4190,0.4215,0.4190,0.4180,0.4215,
         0.4225,0.4190,0.4190,0.4220,0.4230,0.4200,0.4170,0.4200,0.4215,0.4180,
         0.4160,0.4190,0.4200,0.4160,0.4130,0.4170,0.4195,0.4160,0.4150,0.4185,
         0.4190,0.4155,0.4160,0.4195,0.4205,0.4170,0.4140,0.4175,0.4190,0.4160,
         0.4160,0.4190,0.4200,0.4165,0.4150,0.4190,0.4210,0.4180,0.4170,0.4200,
         0.4195,0.4160,0.4145,0.4180,0.4205,0.4175,0.4165,0.4195,0.4190,0.4160,
         0.4150,0.4185,0.4210,0.4180,0.4160,0.4190,0.4200,0.4165,0.4140,0.4180,
         0.4195,0.4160,0.4170,0.4205,0.4220,0.4170,0.4130,0.4180,0.4215,0.4170,
         0.4120,0.4170,0.4200,0.4150,0.4165]
EXP_17 = [0.3993,0.3992,0.3990,0.4018,0.4055,0.4100,0.4118,0.4122,0.4138,0.4150,
          0.4167,0.4178,0.4183,0.4190,0.4196,0.4198,0.4200,0.4203,0.4206,0.4212,
          0.4208,0.4202,0.4196,0.4194,0.4195,0.4198,0.4203,0.4203,0.4203,0.4204,
          0.4206,0.4225,0.4232,0.4233,0.4232,0.4233,0.4227]
PRED_17 = [0.4000,0.4012,0.4030,0.4035,0.4040,0.4045,0.4048,0.4048,0.4050,0.4050,
           0.4052,0.4053,0.4058,0.4083,0.4084,0.4084,0.4084,0.4084,0.4084,0.4084,
           0.4084,0.4084,0.4084,0.4084,0.4084]
FLU_17 = [0.4000,0.4015,0.4030,0.4035,0.4040,0.4045,0.4048,0.4048,0.4050,0.4051,
          0.4053,0.4055,0.4057,0.4060,0.4063,0.4066,0.4070,0.4072,0.4074,0.4076,
          0.4078,0.4080,0.4082,0.4084,0.4086]
YT_17 = [0.400, 0.405, 0.410, 0.415, 0.420]

# ---------------- Sensor 18 ----------------
DA_18 = [0.3955,0.4050,0.4100,0.4000,0.3990,0.4060,0.4080,0.4010,0.4130,0.4040,
         0.3960,0.4060,0.4100,0.4020,0.3990,0.4080,0.4130,0.4050,0.4020,0.4090,
         0.4110,0.4030,0.4040,0.4100,0.4140,0.4070,0.4060,0.4100,0.4120,0.4080,
         0.4080,0.4150,0.4170,0.4110,0.4090,0.4160,0.4150,0.4090,0.4070,0.4120,
         0.4130,0.4070,0.4010,0.4080,0.4110,0.4060,0.4060,0.4100,0.4115,0.4060,
         0.4050,0.4095,0.4090,0.4040,0.4050,0.4090,0.4105,0.4060,0.4070,0.4110,
         0.4125,0.4075,0.4080,0.4120,0.4120,0.4080,0.4075,0.4115,0.4130,0.4085,
         0.4070,0.4100,0.4110,0.4075,0.4085,0.4110,0.4105,0.4065,0.4070,0.4110,
         0.4120,0.4080,0.4085,0.4115,0.4110,0.4070,0.4065,0.4105,0.4125,0.4085,
         0.4080,0.4110,0.4105,0.4075,0.4070,0.4105,0.4100,0.4060,0.4060,0.4095,
         0.4090,0.4050,0.4035,0.4070,0.4080,0.4045,0.4050,0.4090,0.4140,0.4090,
         0.4070,0.4095,0.4100,0.4070,0.4075,0.4110,0.4110,0.4075,0.4080,0.4105,
         0.4100,0.4070,0.4075,0.4120,0.4130,0.4090,0.4090,0.4125,0.4150,0.4090,
         0.4080,0.4120,0.4120,0.4075,0.4060,0.4110,0.4160,0.4080,0.4040,0.4100,
         0.3995,0.4080,0.4130,0.4090,0.4100]
EXP_18 = [0.3920,0.3923,0.3918,0.3939,0.3990,0.4059,0.4080,0.4080,0.4076,0.4085,
          0.4111,0.4128,0.4132,0.4133,0.4141,0.4153,0.4153,0.4152,0.4155,0.4158,
          0.4158,0.4153,0.4145,0.4135,0.4145,0.4160,0.4152,0.4152,0.4158,0.4158,
          0.4166,0.4179,0.4178,0.4179,0.4179,0.4175,0.4166]
PRED_18 = [0.4000,0.4015,0.4030,0.4032,0.4035,0.4045,0.4048,0.4050,0.4052,0.4055,
           0.4055,0.4057,0.4062,0.4082,0.4083,0.4083,0.4083,0.4083,0.4083,0.4083,
           0.4082,0.4082,0.4082,0.4081,0.4080]
FLU_18 = [0.4000,0.4015,0.4028,0.4030,0.4035,0.4042,0.4045,0.4046,0.4050,0.4053,
          0.4052,0.4054,0.4058,0.4062,0.4065,0.4068,0.4070,0.4072,0.4074,0.4076,
          0.4077,0.4078,0.4080,0.4082,0.4085]
YT_18 = [0.395, 0.400, 0.405, 0.410, 0.415]

PANELS = [
    (1, DA_1, PRED_1, FLU_1, EXP_1, YT_1),
    (2, DA_2, PRED_2, FLU_2, EXP_2, YT_2),
    (3, DA_3, PRED_3, FLU_3, EXP_3, YT_3),
    (4, DA_4, PRED_4, FLU_4, EXP_4, YT_4),
    (5, DA_5, PRED_5, FLU_5, EXP_5, YT_5),
    (6, DA_6, PRED_6, FLU_6, EXP_6, YT_6),
    (7, DA_7, PRED_7, FLU_7, EXP_7, YT_7),
    (8, DA_8, PRED_8, FLU_8, EXP_8, YT_8),
    (9, DA_9, PRED_9, FLU_9, EXP_9, YT_9),
    (10, DA_10, PRED_10, FLU_10, EXP_10, YT_10),
    (11, DA_11, PRED_11, FLU_11, EXP_11, YT_11),
    (12, DA_12, PRED_12, FLU_12, EXP_12, YT_12),
    (13, DA_13, PRED_13, FLU_13, EXP_13, YT_13),
    (14, DA_14, PRED_14, FLU_14, EXP_14, YT_14),
    (15, DA_15, PRED_15, FLU_15, EXP_15, YT_15),
    (16, DA_16, PRED_16, FLU_16, EXP_16, YT_16),
    (17, DA_17, PRED_17, FLU_17, EXP_17, YT_17),
    (18, DA_18, PRED_18, FLU_18, EXP_18, YT_18),
]

# ---------------- layout (not data) ----------------
Y_DOMAIN = {
    1: [0.3985, 0.4389], 2: [0.3989, 0.4292], 3: [0.3832, 0.4103],
    4: [0.3957, 0.4352], 5: [0.3927, 0.4312], 6: [0.3986, 0.4384],
    7: [0.3939, 0.4204], 8: [0.3719, 0.4068], 9: [0.3935, 0.4285],
    10: [0.3894, 0.4178], 11: [0.3914, 0.4216], 12: [0.3889, 0.4185],
    13: [0.3684, 0.4056], 14: [0.3967, 0.4232], 15: [0.3936, 0.4265],
    16: [0.3906, 0.4184], 17: [0.3977, 0.4252], 18: [0.3905, 0.4190],
}
FMT3 = {3, 7, 10, 12, 14, 16, 17, 18}
LEGEND_POS = {
    1: (301, 3), 2: (4, 3), 3: (304, 54),
    4: (2, 4), 5: (2, 4), 6: (154, 35),
    7: (2, 4), 8: (302, 30), 9: (154, 5),
    10: (152, 54), 11: (152, 54), 12: (154, 54),
    13: (2, 54), 14: (302, 5), 15: (302, 5),
    16: (152, 54), 17: (4, 32), 18: (154, 54),
}
PW, PH = 380, 110


def series_rows(name, vals):
    n = len(vals)
    return [{"t": T_END * k / (n - 1), "h": v, "series": name} for k, v in enumerate(vals)]


def make_panel(num, da, pred, flu, exp, yt):
    rows = []
    for name, vals in zip(SERIES, (da, pred, flu, exp)):
        rows += series_rows(name, vals)
    df = pd.DataFrame(rows)
    lx, ly = LEGEND_POS[num]
    leg = alt.Legend(title=None, orient="none", legendX=lx, legendY=ly)
    base = alt.Chart(df).mark_line(strokeWidth=1.1, clip=True).encode(
        x=alt.X("t:Q",
                scale=alt.Scale(domain=[-180, 3780], nice=False, zero=False),
                axis=alt.Axis(values=X_TICKS, format="d", title="Time (s)", labelFlush=False)),
        y=alt.Y("h:Q",
                scale=alt.Scale(domain=Y_DOMAIN[num], nice=False, zero=False),
                axis=alt.Axis(values=yt, format=".3f" if num in FMT3 else ".2f",
                              title="Humidity", labelFlush=False)),
        color=alt.Color("series:N", scale=alt.Scale(domain=SERIES, range=COLORS), legend=leg),
        strokeDash=alt.StrokeDash("series:N", scale=alt.Scale(domain=SERIES, range=DASHES), legend=leg),
    )
    layers = [base.transform_filter(alt.datum.series == s) for s in SERIES]
    return alt.layer(*layers).properties(
        width=PW, height=PH, title=alt.TitleParams(f"Sensor {num}"))


charts = [make_panel(*p) for p in PANELS]

chart = (
    alt.concat(*charts, columns=3, spacing={"row": 56, "column": 64}, bounds="flush")
    .resolve_scale(color="independent", strokeDash="independent")
    .resolve_legend(color="independent", strokeDash="independent")
    .properties(padding={"left": 0, "top": 0, "right": 0, "bottom": 0})
    .configure_view(stroke="#333333", strokeWidth=1)
    .configure_axis(grid=False, domain=False, tickColor="#333333", tickSize=3, tickWidth=0.8,
                    labelFont="DejaVu Sans", labelFontSize=9, labelColor="#222222", labelPadding=2,
                    titleFont="DejaVu Sans", titleFontSize=12, titleFontWeight="normal",
                    titleColor="#111111")
    .configure_axisX(titlePadding=2, labelPadding=1)
    .configure_axisY(titlePadding=2)
    .configure_title(font="DejaVu Sans", fontSize=12, fontWeight="normal", color="#111111",
                     offset=2, anchor="middle")
    .configure_legend(labelFont="DejaVu Sans", labelFontSize=7.5, labelColor="#222222",
                      symbolType="stroke", symbolSize=225, symbolStrokeWidth=1.4,
                      padding=3, rowPadding=-1, labelOffset=5,
                      fillColor="rgba(255,255,255,0.8)", strokeColor="#cccccc", cornerRadius=2)
)

chart.save("out.html", embed_options={"renderer": "svg", "actions": False})
